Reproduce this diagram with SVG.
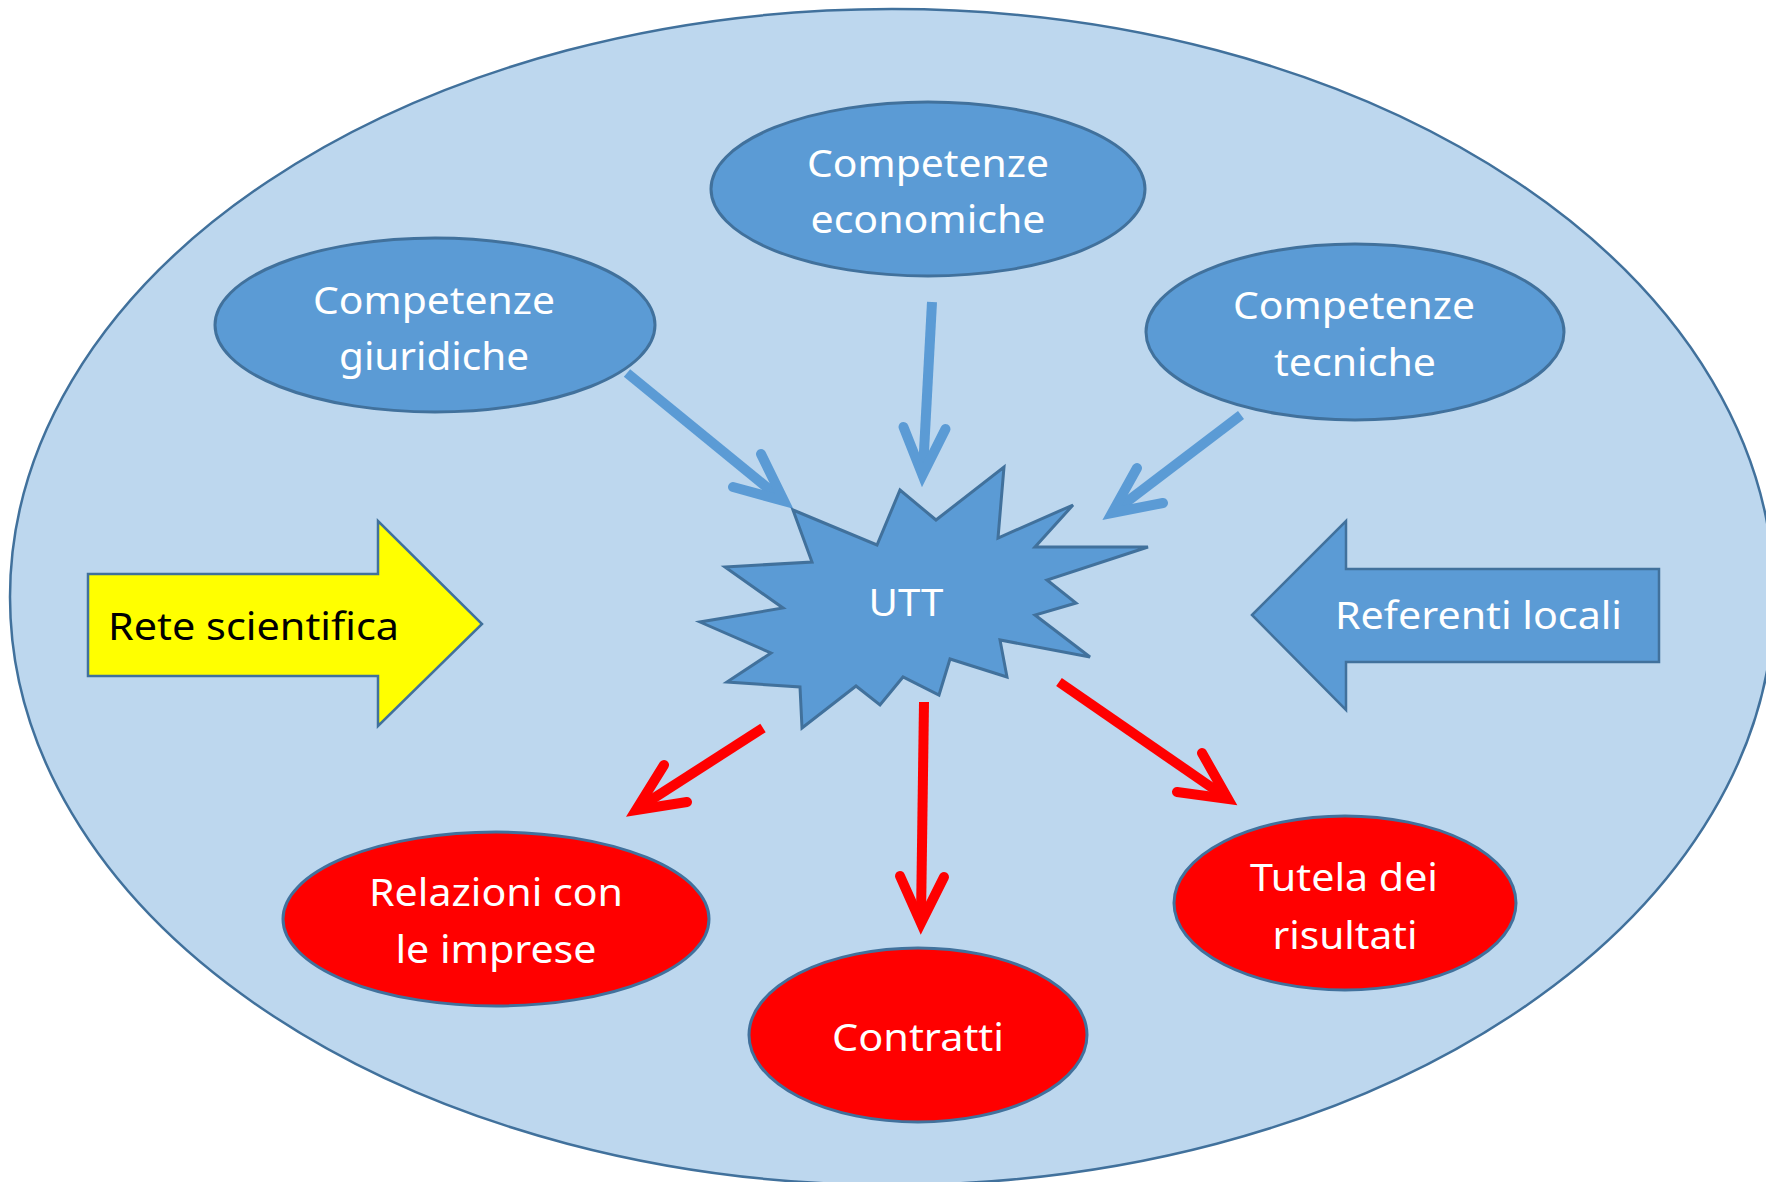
<svg xmlns="http://www.w3.org/2000/svg" width="1766" height="1182" viewBox="0 0 1766 1182">
<style>
.node{fill:#5B9BD5;stroke:#41719C;stroke-width:3}
.red{fill:#FF0000;stroke:#41719C;stroke-width:3}
.t{font-family:"Noto Sans","Open Sans",sans-serif;font-size:38px;fill:#FFFFFF;text-anchor:middle}
.shaft{fill:none;stroke-width:10;stroke-linecap:butt}
.head{fill:none;stroke-width:10;stroke-linecap:round;stroke-linejoin:miter;stroke-miterlimit:10}
.blue{stroke:#5B9BD5}
.rd{stroke:#FF0000}
</style>
<rect width="1766" height="1182" fill="#FFFFFF"/>
<ellipse id="background" cx="892" cy="597" rx="882" ry="588" fill="#BDD7EE" stroke="#41719C" stroke-width="2.5"/>

<g id="connectors">
<line class="shaft blue" x1="627" y1="373" x2="780" y2="498"/>
<polyline class="head blue" points="761,454 784,501 733,487"/>
<line class="shaft blue" x1="932" y1="302" x2="923" y2="470"/>
<polyline class="head blue" points="903.5,427 922.5,475 945.5,429"/>
<line class="shaft blue" x1="1241" y1="415" x2="1116" y2="510"/>
<polyline class="head blue" points="1137,468 1112,513 1163,503"/>
<line class="shaft rd" x1="763" y1="728" x2="640" y2="807"/>
<polyline class="head rd" points="664,765 636,810 687,802"/>
<line class="shaft rd" x1="924" y1="702" x2="921" y2="918"/>
<polyline class="head rd" points="900,876 921,923 944,877"/>
<line class="shaft rd" x1="1059" y1="682" x2="1224" y2="796"/>
<polyline class="head rd" points="1202,753 1228,799 1177,792"/>
</g>

<g id="rete">
<polygon points="88,574 378,574 378,521 482,624 378,726 378,676 88,676" fill="#FFFF00" stroke="#41719C" stroke-width="2.5"/>
<text x="108" y="640" font-family="Noto Sans, Open Sans, sans-serif" font-size="38" fill="#000000" textLength="291" lengthAdjust="spacingAndGlyphs">Rete scientifica</text>
</g>

<g id="referenti">
<polygon points="1252,615 1346,521 1346,569 1659,569 1659,662 1346,662 1346,710" fill="#5B9BD5" stroke="#41719C" stroke-width="2.5"/>
<text x="1335" y="629" font-family="Noto Sans, Open Sans, sans-serif" font-size="38" fill="#FFFFFF" textLength="287" lengthAdjust="spacingAndGlyphs">Referenti locali</text>
</g>

<g id="economiche">
<ellipse class="node" cx="928" cy="189" rx="217" ry="87"/>
<text class="t" x="928" y="177" textLength="242" lengthAdjust="spacingAndGlyphs">Competenze</text>
<text class="t" x="928" y="233" textLength="235" lengthAdjust="spacingAndGlyphs">economiche</text>
</g>

<g id="giuridiche">
<ellipse class="node" cx="435" cy="325" rx="220" ry="87"/>
<text class="t" x="434" y="314" textLength="242" lengthAdjust="spacingAndGlyphs">Competenze</text>
<text class="t" x="434" y="370" textLength="190" lengthAdjust="spacingAndGlyphs">giuridiche</text>
</g>

<g id="tecniche">
<ellipse class="node" cx="1355" cy="332" rx="209" ry="88"/>
<text class="t" x="1354" y="319" textLength="242" lengthAdjust="spacingAndGlyphs">Competenze</text>
<text class="t" x="1355" y="376" textLength="162" lengthAdjust="spacingAndGlyphs">tecniche</text>
</g>

<g id="utt">
<polygon class="node" points="793,510 877,545 900,490 936,520 1004,467 998,538 1073,505 1035,547 1148,547 1047,580 1076,603 1035,615 1090,657 1000,640 1007,677 950,659 939,695 903,677 880,705 856,686 802,728 800,687 727,682 771,653 700,622 783,608 725,567 812,562"/>
<text class="t" x="906" y="616" textLength="75" lengthAdjust="spacingAndGlyphs">UTT</text>
</g>

<g id="relazioni">
<ellipse class="red" cx="496" cy="919" rx="213" ry="87"/>
<text class="t" x="496" y="906" textLength="254" lengthAdjust="spacingAndGlyphs">Relazioni con</text>
<text class="t" x="496" y="963" textLength="201" lengthAdjust="spacingAndGlyphs">le imprese</text>
</g>

<g id="contratti">
<ellipse class="red" cx="918" cy="1035" rx="169" ry="87"/>
<text class="t" x="918" y="1051" textLength="172" lengthAdjust="spacingAndGlyphs">Contratti</text>
</g>

<g id="tutela">
<ellipse class="red" cx="1345" cy="903" rx="171" ry="87"/>
<text class="t" x="1344" y="891" textLength="188" lengthAdjust="spacingAndGlyphs">Tutela dei</text>
<text class="t" x="1345" y="949" textLength="145" lengthAdjust="spacingAndGlyphs">risultati</text>
</g>
</svg>
